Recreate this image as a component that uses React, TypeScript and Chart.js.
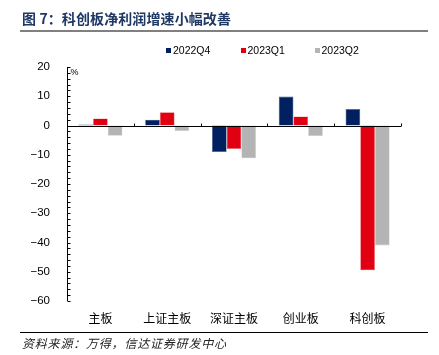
import React, { useEffect, useRef } from "react";
import { Chart, registerables } from "chart.js";

Chart.register(...registerables);

const categories = ["主板", "上证主板", "深证主板", "创业板", "科创板"];
const seriesNames = ["2022Q4", "2023Q1", "2023Q2"];
const q4_2022 = [0.3, 2.0, -9.1, 9.9, 5.6];
const q1_2023 = [2.4, 4.5, -8.0, 3.1, -49.5];
const q2_2023 = [-3.5, -1.9, -11.2, -3.6, -41.0];
const seriesColors = ["#002060", "#E00012", "#B4B4B4"];
const seriesEdges = ["#4a5f95", "#f0606a", "#d0d0d0"];
const yMin = -60;
const yMax = 20;

const axisPlugin = {
  id: "customAxes",
  afterDatasetsDraw(chart: any) {
    const { ctx, chartArea, scales } = chart;
    const ys = scales.y;
    const left = Math.round(chartArea.left) + 0.5;
    const y0 = Math.round(ys.getPixelForValue(0)) + 0.5;
    ctx.save();
    ctx.strokeStyle = "#000";
    ctx.lineWidth = 1;
    ctx.beginPath();
    ctx.moveTo(left, ys.getPixelForValue(yMax));
    ctx.lineTo(left, ys.getPixelForValue(yMin));
    for (let v = yMin; v <= yMax; v += 2) {
      const py = Math.round(ys.getPixelForValue(v)) + 0.5;
      ctx.moveTo(left, py);
      ctx.lineTo(left + 3, py);
    }
    ctx.moveTo(left, y0);
    ctx.lineTo(chartArea.right, y0);
    const n = categories.length;
    const w = (chartArea.right - chartArea.left) / n;
    for (let i = 1; i <= n; i++) {
      const px = Math.round(chartArea.left + i * w) + 0.5;
      ctx.moveTo(px, y0);
      ctx.lineTo(px, y0 - 3);
    }
    ctx.stroke();
    ctx.fillStyle = "#000";
    ctx.font = "9px 'Liberation Sans', Arial, sans-serif";
    ctx.textBaseline = "middle";
    ctx.textAlign = "left";
    ctx.fillText("%", left + 3, ys.getPixelForValue(yMax) + 6);
    ctx.restore();
  },
};

export default function App() {
  const canvasRef = useRef<HTMLCanvasElement>(null);

  useEffect(() => {
    if (!canvasRef.current) return;
    const data = [q4_2022, q1_2023, q2_2023];
    const chart = new Chart(canvasRef.current, {
      type: "bar",
      data: {
        labels: categories,
        datasets: seriesNames.map((name, i) => ({
          label: name,
          data: data[i],
          backgroundColor: seriesColors[i],
          borderColor: seriesEdges[i],
          borderWidth: 0.6,
          borderSkipped: false,
          categoryPercentage: 0.66,
          barPercentage: 1.0,
        })),
      },
      options: {
        animation: false,
        responsive: false,
        maintainAspectRatio: false,
        layout: { padding: { left: 0, right: 38, top: 67, bottom: 24 } },
        plugins: { legend: { display: false }, tooltip: { enabled: false } },
        scales: {
          x: {
            grid: { display: false, drawTicks: false },
            border: { display: false },
            ticks: {
              color: "#000",
              padding: 10,
              maxRotation: 0,
              autoSkip: false,
              font: { family: "'Noto Sans CJK SC', sans-serif", size: 12 },
            },
            afterFit: (s: any) => {
              s.height = 30;
            },
          },
          y: {
            min: yMin,
            max: yMax,
            grid: { display: false, drawTicks: false },
            border: { display: false },
            ticks: {
              stepSize: 2,
              autoSkip: false,
              padding: 17,
              color: "#000",
              font: { family: "'Liberation Sans', Arial, sans-serif", size: 11.5 },
              callback: (v: any) =>
                Number(v) % 10 === 0 ? String(v).replace("-", "\u2212") : "",
            },
            afterFit: (s: any) => {
              s.width = 67;
            },
          },
        },
      },
      plugins: [axisPlugin],
    });
    return () => chart.destroy();
  }, []);

  const legendX = [166, 240.5, 314.5];

  return (
    <div
      style={{
        position: "absolute",
        left: 0,
        top: 0,
        width: 439,
        height: 355,
        background: "#fff",
        overflow: "hidden",
      }}
    >
      <canvas
        ref={canvasRef}
        width={439}
        height={355}
        style={{ position: "absolute", left: 0, top: 0, width: 439, height: 355 }}
      />
      <div
        style={{
          position: "absolute",
          left: 22,
          top: 9,
          fontFamily: "'Noto Sans CJK SC', sans-serif",
          fontWeight: 700,
          fontSize: 14,
          letterSpacing: 0.1,
          color: "#1F3864",
          whiteSpace: "nowrap",
          lineHeight: "18px",
        }}
      >
        图 7：科创板净利润增速小幅改善
      </div>
      <div
        style={{
          position: "absolute",
          left: 20,
          top: 30,
          width: 408,
          height: 2,
          background: "#808080",
        }}
      />
      {seriesNames.map((name, i) => (
        <div key={name}>
          <div
            style={{
              position: "absolute",
              left: legendX[i],
              top: 48,
              width: 5,
              height: 5,
              background: seriesColors[i],
            }}
          />
          <div
            style={{
              position: "absolute",
              left: legendX[i] + 7,
              top: 44,
              fontFamily: "'Liberation Sans', Arial, sans-serif",
              fontSize: 10.5,
              lineHeight: "13px",
              color: "#000",
              whiteSpace: "nowrap",
            }}
          >
            {name}
          </div>
        </div>
      ))}
      <div
        style={{
          position: "absolute",
          left: 20,
          top: 332,
          width: 408,
          height: 1,
          background: "#000",
        }}
      />
      <div
        style={{
          position: "absolute",
          left: 22,
          top: 335,
          fontFamily: "'Noto Sans CJK SC', sans-serif",
          fontStyle: "italic",
          fontSize: 12,
          letterSpacing: 0.8,
          lineHeight: "15px",
          color: "#222",
          whiteSpace: "nowrap",
        }}
      >
        资料来源：万得，信达证券研发中心
      </div>
    </div>
  );
}
